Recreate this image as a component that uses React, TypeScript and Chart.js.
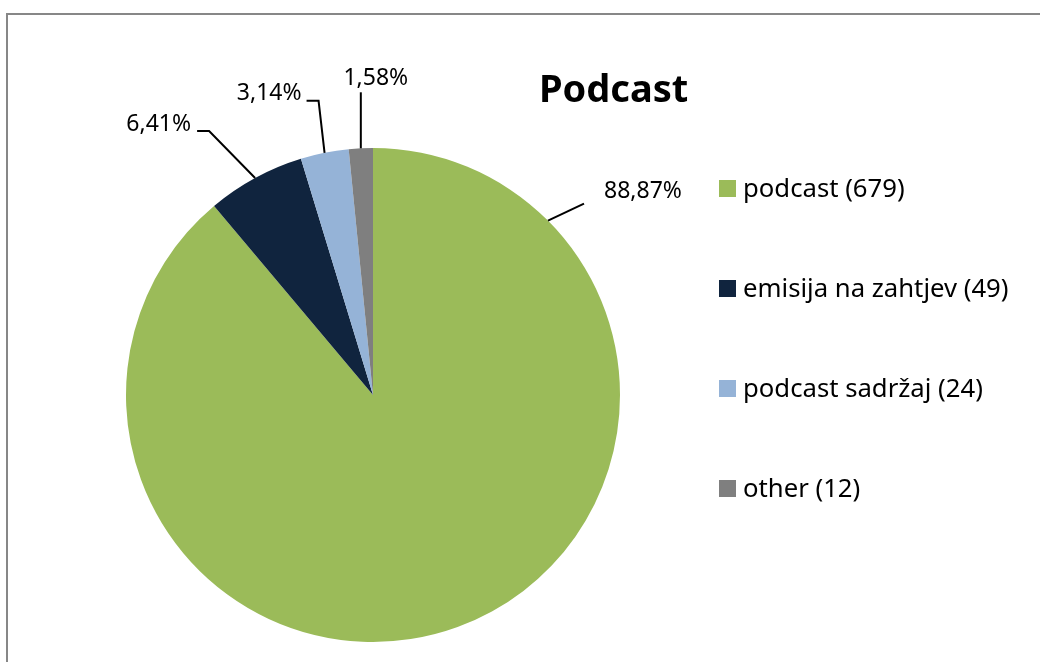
import React, { useEffect, useRef } from "react";
import Chart from "chart.js/auto";

const categories = ["podcast", "emisija na zahtjev", "podcast sadržaj", "other"];
const counts = [679, 49, 24, 12];
const percentLabels = ["88,87%", "6,41%", "3,14%", "1,58%"];
const sliceColors = ["#9BBB59", "#10243E", "#95B3D7", "#7F7F7F"];
const chartTitle = "Podcast";

const FONT = '"Noto Sans", "DejaVu Sans", sans-serif';

// leader-line layout per label (relative to the arc edge point)
const labelLayout = [
  { frac: 0.141, elbow: [36, -17], tail: 0, align: "left", text: [20, -6] },
  { frac: 0.5, elbow: [-46, -47], tail: -12, align: "right", text: [-6, 0] },
  { frac: 0.5, elbow: [-6, -52], tail: -12, align: "right", text: [-5, -1] },
  { frac: 0.5, elbow: [0, -56], tail: 0, align: "center", text: [15, -7] },
];

const decorPlugin = {
  id: "decor",
  beforeDraw(chart: any) {
    const ctx = chart.ctx;
    ctx.save();
    ctx.fillStyle = "#ffffff";
    ctx.fillRect(0, 0, chart.width, chart.height);
    ctx.strokeStyle = "#878787";
    ctx.lineWidth = 2;
    ctx.strokeRect(7, 14, chart.width + 20, chart.height + 20);
    ctx.restore();
  },
  afterDatasetsDraw(chart: any) {
    const ctx = chart.ctx;
    const meta = chart.getDatasetMeta(0);
    ctx.save();
    // labels with leader lines
    meta.data.forEach((arc: any, i: number) => {
      const p = arc.getProps(["x", "y", "startAngle", "endAngle", "outerRadius"], true);
      const L = labelLayout[i];
      const a = p.startAngle + L.frac * (p.endAngle - p.startAngle);
      const ax = p.x + p.outerRadius * Math.cos(a);
      const ay = p.y + p.outerRadius * Math.sin(a);
      const ex = ax + L.elbow[0];
      const ey = ay + L.elbow[1];
      const tx = ex + L.tail;
      ctx.strokeStyle = "#000000";
      ctx.lineWidth = 2;
      ctx.beginPath();
      ctx.moveTo(ax, ay);
      ctx.lineTo(ex, ey);
      if (L.tail) ctx.lineTo(tx, ey);
      ctx.stroke();
      ctx.fillStyle = "#000000";
      ctx.font = `23px ${FONT}`;
      ctx.textAlign = L.align;
      ctx.textBaseline = "alphabetic";
      ctx.fillText(percentLabels[i], tx + L.text[0], ey + L.text[1]);
    });
    // title
    ctx.fillStyle = "#000000";
    ctx.font = `bold 38px ${FONT}`;
    ctx.textAlign = "left";
    ctx.textBaseline = "alphabetic";
    ctx.fillText(chartTitle, 539, 102);
    // legend
    const labels = chart.data.labels;
    const ds = chart.data.datasets[0];
    labels.forEach((lab: string, i: number) => {
      const top = 180 + i * 100;
      ctx.fillStyle = ds.backgroundColor[i];
      ctx.fillRect(719, top, 17, 17);
      ctx.fillStyle = "#000000";
      ctx.font = `25.7px ${FONT}`;
      ctx.textAlign = "left";
      ctx.fillText(`${lab} (${ds.data[i]})`, 743, top + 17);
    });
    ctx.restore();
  },
};

export default function App() {
  const ref = useRef<HTMLCanvasElement | null>(null);
  useEffect(() => {
    if (!ref.current) return;
    const chart = new Chart(ref.current, {
      type: "pie",
      data: {
        labels: categories,
        datasets: [
          {
            data: counts,
            backgroundColor: sliceColors,
            borderWidth: 0,
          },
        ],
      },
      options: {
        responsive: false,
        animation: false,
        devicePixelRatio: 1,
        layout: { padding: { left: 126, top: 148, right: 420, bottom: 20 } },
        plugins: {
          legend: { display: false },
          tooltip: { enabled: false },
          title: { display: false },
        },
        events: [],
      },
      plugins: [decorPlugin],
    });
    return () => chart.destroy();
  }, []);
  return (
    <div style={{ position: "absolute", left: 0, top: 0, width: 1040, height: 662, background: "#fff" }}>
      <canvas ref={ref} width={1040} height={662} />
    </div>
  );
}
